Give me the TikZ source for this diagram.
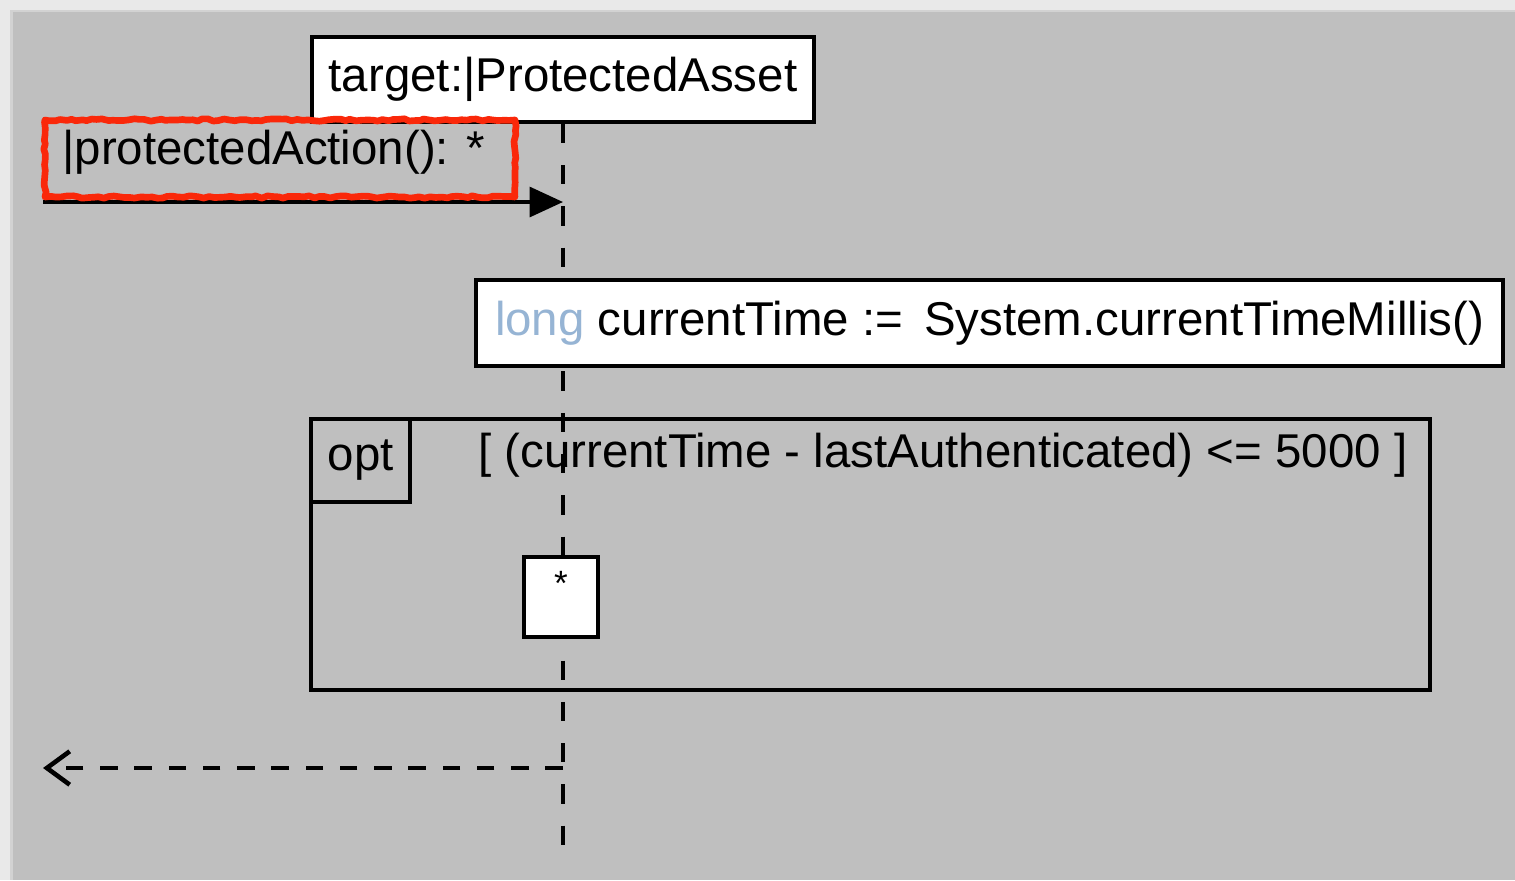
\documentclass[tikz,border=0pt]{standalone}
\usepackage{fontspec}
\setmainfont{Liberation Sans}
\usetikzlibrary{arrows.meta,decorations.pathmorphing}
\definecolor{panelgray}{RGB}{191,191,191}
\definecolor{pagegray}{RGB}{233,233,233}
\definecolor{keyblue}{RGB}{150,180,212}
\definecolor{markred}{RGB}{250,40,10}
\newcommand\umlfont{\fontsize{27}{32}\selectfont}
\def\umlbox{\node[draw,fill=white,line width=2pt,inner sep=0pt,font=\umlfont]}
\tikzset{
  lifeline/.style={line width=2.2pt,dash pattern=on 11pt off 12.5pt},
  callmsg/.style={line width=2pt,-{Triangle[length=19pt,width=17pt]}},
  returnmsg/.style={line width=1.8pt,dash pattern=on 10pt off 9.5pt,-{Straight Barb[length=13pt,width=19pt,line width=2.6pt]}},
  redmark/.style={draw=markred,line width=3.8pt,line join=round,decorate,decoration={random steps,segment length=3pt,amplitude=0.7pt}}
}

\begin{document}
\begin{tikzpicture}[x=0.02cm,y=-0.02cm]
\useasboundingbox (0,0) rectangle (1515,880);
% page and panel
\fill[pagegray] (0,0) rectangle (1515,880);
\fill[gray!35] (10,10) rectangle (1515,880);
\fill[panelgray] (13,12) rectangle (1515,880);
% lifeline head
\umlbox[minimum width=10.04cm,minimum height=1.7cm] (head) at (563,79.5) {target:|ProtectedAsset};
\coordinate (lifeend) at (563,850);
% opt fragment
\node[draw,line width=2pt,minimum width=22.38cm,minimum height=5.42cm] (frame) at (870.5,554.5) {};
\node[draw,line width=2pt,anchor=north west,minimum width=1.98cm,minimum height=1.66cm,font=\umlfont] (opttab) at (frame.north west) {opt};
\node[anchor=west,inner sep=0pt,font=\umlfont] (guard) at (478,455) {[ (currentTime - lastAuthenticated) <= 5000 ]};
\draw[lifeline] (head.south) -- (lifeend);
% statement and activation
\umlbox[minimum width=20.54cm,minimum height=1.72cm] (assign) at (989.5,323) {\textcolor{keyblue}{long} currentTime :=\, System.currentTimeMillis()};
\umlbox[minimum width=1.48cm,minimum height=1.6cm,label={[anchor=north,inner sep=0pt,yshift=-0.32cm,font=\fontsize{20}{24}\selectfont]north:*}] (act) at (561,597) {};
% call
\coordinate (caller) at (43,202);
\draw[callmsg] (caller) -- (caller -| head);
\node[anchor=west,inner sep=0pt,font=\umlfont] (msglabel) at (62,152) {|protectedAction(): *};
\draw[redmark] (45,120) -- (515,120) -- (515,197) -- (45,197) -- cycle;
% return
\coordinate (back) at (43,768);
\draw[returnmsg] (back -| head) -- (back);
\end{tikzpicture}
\end{document}
